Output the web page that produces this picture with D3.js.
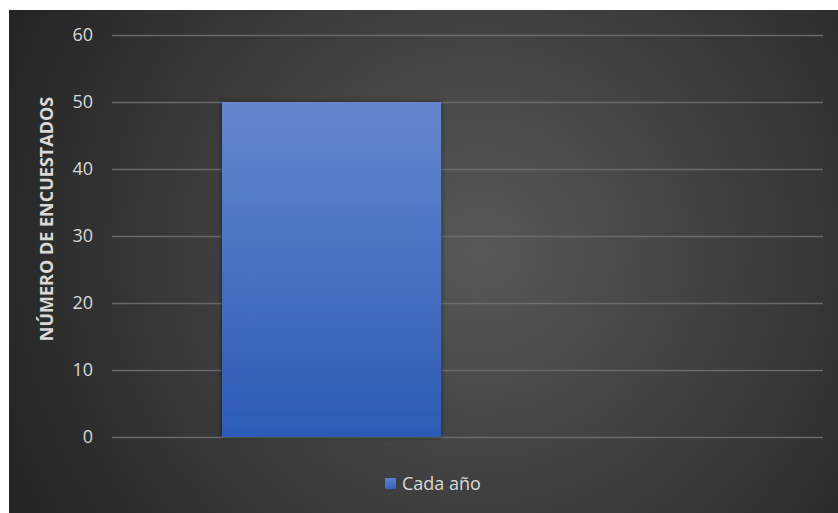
<!DOCTYPE html>
<html>
<head>
<meta charset="utf-8">
<script src="https://cdn.jsdelivr.net/npm/d3@7"></script>
<style>
  html, body { margin: 0; padding: 0; background: #ffffff; }
  svg { display: block; }
  text { font-family: "Open Sans", "Noto Sans", sans-serif; }
</style>
</head>
<body>
<script>
// Survey respondents: one series, one category
const categories = ["Cada año"];
const seriesName = "Cada año";
const values = [50];
const yTicks = [0, 10, 20, 30, 40, 50, 60];
const yTitle = "NÚMERO DE ENCUESTADOS";

const W = 838, H = 513;
const frame = { x: 9, y: 10, w: 829, h: 503 };
const plot = { left: 112, right: 823, top: 35, bottom: 437 };

const svg = d3.select("body").append("svg")
  .attr("width", W).attr("height", H);

const defs = svg.append("defs");

// Dark radial backdrop
const bg = defs.append("radialGradient").attr("id", "bg")
  .attr("gradientUnits", "userSpaceOnUse")
  .attr("cx", 480).attr("cy", 250).attr("r", 520);
bg.append("stop").attr("offset", "0%").attr("stop-color", "#585858");
bg.append("stop").attr("offset", "100%").attr("stop-color", "#242424");

// Vertical fill for the bar
const barGrad = defs.append("linearGradient").attr("id", "barGrad")
  .attr("x1", 0).attr("y1", 0).attr("x2", 0).attr("y2", 1);
barGrad.append("stop").attr("offset", "0%").attr("stop-color", "#6586cd");
barGrad.append("stop").attr("offset", "100%").attr("stop-color", "#2b5cb6");

const legGrad = defs.append("linearGradient").attr("id", "legGrad")
  .attr("x1", 0).attr("y1", 0).attr("x2", 0).attr("y2", 1);
legGrad.append("stop").attr("offset", "0%").attr("stop-color", "#5a80d0");
legGrad.append("stop").attr("offset", "100%").attr("stop-color", "#3564c0");

const shadow = defs.append("filter").attr("id", "shadow")
  .attr("x", "-10%").attr("y", "-10%").attr("width", "120%").attr("height", "120%");
shadow.append("feDropShadow").attr("dx", 0).attr("dy", 0)
  .attr("stdDeviation", 2.5).attr("flood-color", "#000").attr("flood-opacity", 0.55);

svg.append("rect")
  .attr("x", frame.x).attr("y", frame.y)
  .attr("width", frame.w).attr("height", frame.h)
  .attr("fill", "url(#bg)");

const y = d3.scaleLinear().domain([0, 60]).range([plot.bottom, plot.top]);
const x = d3.scaleBand().domain(categories)
  .range([plot.left, plot.right])
  .paddingInner(0).paddingOuter(1.123).align(0.2236);

// Gridlines and tick labels
const yAxis = d3.axisLeft(y).tickValues(yTicks)
  .tickSize(-(plot.right - plot.left)).tickPadding(19);
const gy = svg.append("g")
  .attr("transform", `translate(${plot.left},0)`)
  .call(yAxis);
gy.select(".domain").remove();
gy.selectAll(".tick line")
  .attr("stroke", "#6e6e6e").attr("stroke-width", 1.5).attr("opacity", 0.9);
gy.selectAll(".tick text")
  .attr("fill", "#d9d9d9").attr("font-size", 18);

// Bars
svg.append("g").selectAll("rect")
  .data(values)
  .join("rect")
  .attr("x", (d, i) => x(categories[i]))
  .attr("y", d => y(d))
  .attr("width", x.bandwidth())
  .attr("height", d => y(0) - y(d))
  .attr("fill", "url(#barGrad)")
  .attr("filter", "url(#shadow)");

// Axis title
svg.append("text")
  .attr("transform", "translate(53,219) rotate(-90)")
  .attr("text-anchor", "middle")
  .attr("fill", "#d9d9d9")
  .attr("font-size", 18)
  .attr("font-weight", "bold")
  .text(yTitle);

// Legend
const lg = svg.append("g").attr("transform", "translate(385,478)");
lg.append("rect").attr("width", 11).attr("height", 11).attr("fill", "url(#legGrad)");
lg.append("text").attr("x", 17).attr("y", 12)
  .attr("fill", "#d9d9d9").attr("font-size", 18)
  .text(seriesName);
</script>
</body>
</html>
